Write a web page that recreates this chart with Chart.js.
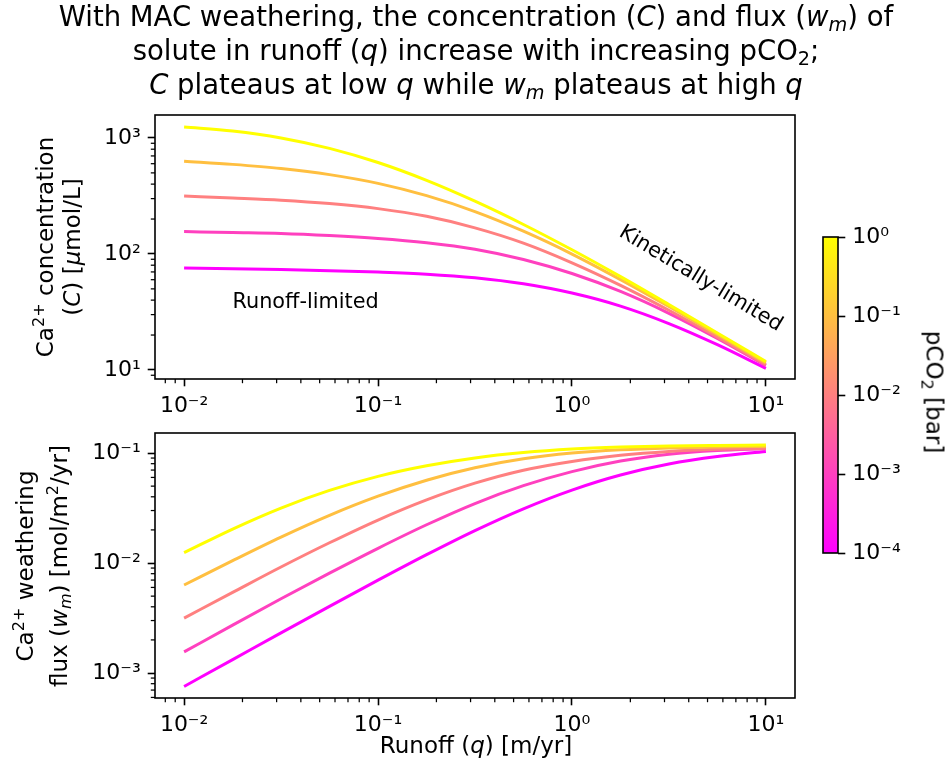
<!DOCTYPE html>
<html><head><meta charset="utf-8">
<script src="https://cdn.jsdelivr.net/npm/chart.js@4.4.1/dist/chart.umd.min.js"></script>
<style>
html,body{margin:0;padding:0;background:#fff;}
#wrap{position:relative;width:951px;height:767px;overflow:hidden;font-family:"DejaVu Sans",sans-serif;color:#000;}
canvas{position:absolute;left:0;top:0;}
.t{position:absolute;white-space:nowrap;}
.title{left:0;top:-1px;width:952px;text-align:center;font-size:27.5px;line-height:34px;}
.lab{font-size:23px;line-height:23px;transform:translate(-50%,-50%) rotate(-90deg);}
.labx{font-size:23px;line-height:23px;transform:translate(-50%,-50%);}
.labr{font-size:23px;line-height:23px;transform:translate(-50%,-50%) rotate(90deg);}
sub,sup{font-size:70%;line-height:0;}
sub{vertical-align:-0.28em;} sup{vertical-align:0.55em;}
</style></head>
<body>
<div id="wrap">
<canvas id="top" width="951" height="767"></canvas>
<canvas id="bot" width="951" height="767"></canvas>
<canvas id="cbar" width="951" height="767"></canvas>
<div class="t title">With MAC weathering, the concentration (<i>C</i>) and flux (<i>w<sub>m</sub></i>) of<br>solute in runoff (<i>q</i>) increase with increasing pCO<sub>2</sub>;<br><i>C</i> plateaus at low <i>q</i> while <i>w<sub>m</sub></i> plateaus at high <i>q</i></div>
<div class="t lab" style="left:45px;top:247px;">Ca<sup>2+</sup> concentration</div>
<div class="t lab" style="left:72px;top:247px;">(<i>C</i>) [<i>μ</i>mol/L]</div>
<div class="t lab" style="left:25px;top:566px;">Ca<sup>2+</sup> weathering</div>
<div class="t lab" style="left:59px;top:566px;">flux (<i>w<sub>m</sub></i>) [mol/m<sup>2</sup>/yr]</div>
<div class="t labx" style="left:476px;top:745px;">Runoff (<i>q</i>) [m/yr]</div>
<div class="t labr" style="left:934px;top:392px;">pCO<sub>2</sub> [bar]</div>
</div>
<script>
// ---------------- data ----------------
const runoff = [0.01, 0.0178, 0.0316, 0.0562, 0.1, 0.178, 0.316, 0.562, 1, 1.78, 3.16, 5.62, 10];
const pco2Levels = [1, 0.1, 0.01, 0.001, 0.0001];

// Ca2+ concentration (umol/L), one array per pCO2
const conc_pCO2_1e0  = [1242, 1146, 1000, 813, 614, 431, 285, 179.5, 108.6, 63.7, 36.6, 20.8, 11.8];
const conc_pCO2_1e_1 = [631, 592, 545, 483, 406, 318, 232, 157, 99.8, 60.1, 35.2, 20.2, 11.5];
const conc_pCO2_1e_2 = [316, 304, 291, 272, 246, 211, 168, 124, 83.9, 53.6, 32.7, 19.2, 11.1];
const conc_pCO2_1e_3 = [156, 153, 150, 144, 136, 125, 110, 89.7, 67.8, 47.5, 30.8, 18.7, 10.9];
const conc_pCO2_1e_4 = [75.5, 74.5, 73.3, 71.8, 69.8, 67.0, 62.4, 55.3, 46.0, 35.5, 25.1, 16.5, 10.3];

// Ca2+ weathering flux (mol/m2/yr), one array per pCO2
const flux_pCO2_1e0  = [0.01242, 0.02037, 0.03162, 0.04571, 0.06138, 0.07656, 0.09016, 0.1009, 0.1086, 0.1132, 0.1159, 0.1172, 0.1180];
const flux_pCO2_1e_1 = [0.00631, 0.01052, 0.01722, 0.02716, 0.04055, 0.05662, 0.07345, 0.08851, 0.0998, 0.1069, 0.1112, 0.1135, 0.1148];
const flux_pCO2_1e_2 = [0.00316, 0.00541, 0.00920, 0.01528, 0.0246, 0.0375, 0.0532, 0.0698, 0.0839, 0.0953, 0.1033, 0.1081, 0.1107];
const flux_pCO2_1e_3 = [0.001556, 0.002729, 0.004732, 0.008091, 0.01361, 0.02228, 0.03475, 0.05047, 0.06776, 0.08453, 0.0975, 0.1054, 0.1094];
const flux_pCO2_1e_4 = [0.000755, 0.001324, 0.002317, 0.004036, 0.006982, 0.01191, 0.01972, 0.03112, 0.04603, 0.0631, 0.07943, 0.0929, 0.1033];

const xTicks = [0.01, 0.1, 1, 10];
const concTicks = [10, 100, 1000];
const fluxTicks = [0.001, 0.01, 0.1];
const cbTicks = [0.0001, 0.001, 0.01, 0.1, 1];
const cbMin = 0.0001, cbMax = 1;

const concSeries = [conc_pCO2_1e0, conc_pCO2_1e_1, conc_pCO2_1e_2, conc_pCO2_1e_3, conc_pCO2_1e_4];
const fluxSeries = [flux_pCO2_1e0, flux_pCO2_1e_1, flux_pCO2_1e_2, flux_pCO2_1e_3, flux_pCO2_1e_4];

// ---------------- helpers ----------------
Chart.defaults.font.family = '"DejaVu Sans", sans-serif';
Chart.defaults.color = '#000';
const FS = 20.8;   // annotation text
const TFS = 22;    // tick labels

function spring(p){ // matplotlib 'spring' colormap with log norm 1e-4..1
  const t = Math.max(0, Math.min(1, (Math.log10(p) - Math.log10(cbMin)) / (Math.log10(cbMax) - Math.log10(cbMin))));
  return `rgb(255,${Math.round(255*t)},${Math.round(255*(1-t))})`;
}
const SUP = {'-':'\u207B','0':'\u2070','1':'\u00B9','2':'\u00B2','3':'\u00B3','4':'\u2074','5':'\u2075','6':'\u2076','7':'\u2077','8':'\u2078','9':'\u2079'};
function pow10Label(v){
  const e = Math.round(Math.log10(v));
  return '10' + String(e).split('').map(c=>SUP[c]).join('');
}
function logAxis(min, max, ticks, extra){
  return Object.assign({
    type:'logarithmic', min, max, bounds:'data',
    afterBuildTicks: s => { s.ticks = ticks.map(v=>({value:v, major:true})); },
    ticks:{ callback: v => pow10Label(v), font:{size:TFS}, color:'#000', padding:7, autoSkip:false, maxRotation:0, minRotation:0 },
    grid:{ display:true, drawOnChartArea:false, drawTicks:true, tickLength:7.3, tickWidth:1.6, tickColor:'#000' },
    border:{ display:false }
  }, extra || {});
}
const framePlugin = {
  id:'frame',
  afterDraw(chart, args, opts){
    const ctx = chart.ctx, a = chart.chartArea;
    ctx.save();
    ctx.strokeStyle = '#000';
    if (opts.minor){
      ctx.lineWidth = 1.25;
      for (const id of ['x','y']){
        const s = chart.scales[id];
        if (!s || s.type !== 'logarithmic') continue;
        const d0 = Math.floor(Math.log10(s.min)), d1 = Math.ceil(Math.log10(s.max));
        for (let d = d0; d <= d1; d++){
          for (let k = 2; k <= 9; k++){
            const v = k * Math.pow(10, d);
            if (v < s.min || v > s.max) continue;
            const p = s.getPixelForValue(v);
            ctx.beginPath();
            if (id === 'x'){ ctx.moveTo(p, a.bottom); ctx.lineTo(p, a.bottom + 4.2); }
            else { ctx.moveTo(a.left, p); ctx.lineTo(a.left - 4.2, p); }
            ctx.stroke();
          }
        }
      }
    }
    ctx.lineWidth = 1.6;
    ctx.strokeRect(a.left, a.top, a.right - a.left, a.bottom - a.top);
    ctx.restore();
  }
};
const notesPlugin = {
  id:'notes',
  afterDatasetsDraw(chart, args, opts){
    if (!opts.items) return;
    const ctx = chart.ctx, sx = chart.scales.x, sy = chart.scales.y;
    ctx.save();
    ctx.font = `${FS}px "DejaVu Sans"`;
    ctx.fillStyle = '#000';
    ctx.textAlign = 'center'; ctx.textBaseline = 'middle';
    for (const it of opts.items){
      ctx.save();
      ctx.translate(sx.getPixelForValue(it.x), sy.getPixelForValue(it.y));
      ctx.rotate(-it.angle * Math.PI / 180);
      ctx.fillText(it.text, 0, 0);
      ctx.restore();
    }
    ctx.restore();
  }
};

function makeDatasets(series){
  return pco2Levels.map((p, i) => ({
    label: 'pCO2 = ' + p,
    data: runoff.map((q, j) => ({x:q, y:series[i][j]})),
    borderColor: spring(p), backgroundColor: spring(p),
    borderWidth: 3, pointRadius: 0, fill: false,
    cubicInterpolationMode: 'monotone', borderCapStyle:'butt'
  }));
}
const common = {
  responsive:false, animation:false, devicePixelRatio:1,
  events: []
};
const xMin = Math.pow(10, -2.15), xMax = Math.pow(10, 1.15);

new Chart(document.getElementById('top'), {
  type:'line',
  data:{ datasets: makeDatasets(concSeries) },
  plugins:[framePlugin, notesPlugin],
  options: Object.assign({}, common, {
    layout:{ padding:{ left:0, right:156, top:115, bottom:348 } },
    plugins:{ legend:{display:false}, tooltip:{enabled:false}, frame:{minor:true},
      notes:{ items:[
        {text:'Runoff-limited', x:0.0423, y:37.8, angle:0},
        {text:'Kinetically-limited', x:4.61, y:60.9, angle:-31}
      ]}},
    scales:{
      x: logAxis(xMin, xMax, xTicks, { afterFit: s => { s.height = 40; } }),
      y: logAxis(Math.pow(10, 0.922), Math.pow(10, 3.198), concTicks, { afterFit: s => { s.width = 155; } })
    }
  })
});

new Chart(document.getElementById('bot'), {
  type:'line',
  data:{ datasets: makeDatasets(fluxSeries) },
  plugins:[framePlugin],
  options: Object.assign({}, common, {
    layout:{ padding:{ left:0, right:156, top:433, bottom:29 } },
    plugins:{ legend:{display:false}, tooltip:{enabled:false}, frame:{minor:true} },
    scales:{
      x: logAxis(xMin, xMax, xTicks, { afterFit: s => { s.height = 40; } }),
      y: logAxis(Math.pow(10, -3.227), Math.pow(10, -0.818), fluxTicks, { afterFit: s => { s.width = 155; } })
    }
  })
});

new Chart(document.getElementById('cbar'), {
  type:'bar',
  data:{ labels:['pCO2'], datasets:[{
    data:[[cbMin, cbMax]],
    borderWidth:0, barPercentage:1, categoryPercentage:1,
    backgroundColor: c => {
      const ch = c.chart, ys = ch.scales.y;
      if (!ch.chartArea || !ys) return spring(0.01);
      const g = ch.ctx.createLinearGradient(0, ys.getPixelForValue(cbMin), 0, ys.getPixelForValue(cbMax));
      g.addColorStop(0, spring(cbMin)); g.addColorStop(1, spring(cbMax));
      return g;
    }
  }]},
  plugins:[framePlugin],
  options: Object.assign({}, common, {
    plugins:{ legend:{display:false}, tooltip:{enabled:false}, frame:{minor:false} },
    layout:{ padding:{ left:823, right:33, top:237, bottom:214 } },
    scales:{
      x:{ display:false },
      y: logAxis(cbMin, cbMax, cbTicks, { position:'right', afterFit: s => { s.width = 80; } })
    }
  })
});
</script>
</body></html>
